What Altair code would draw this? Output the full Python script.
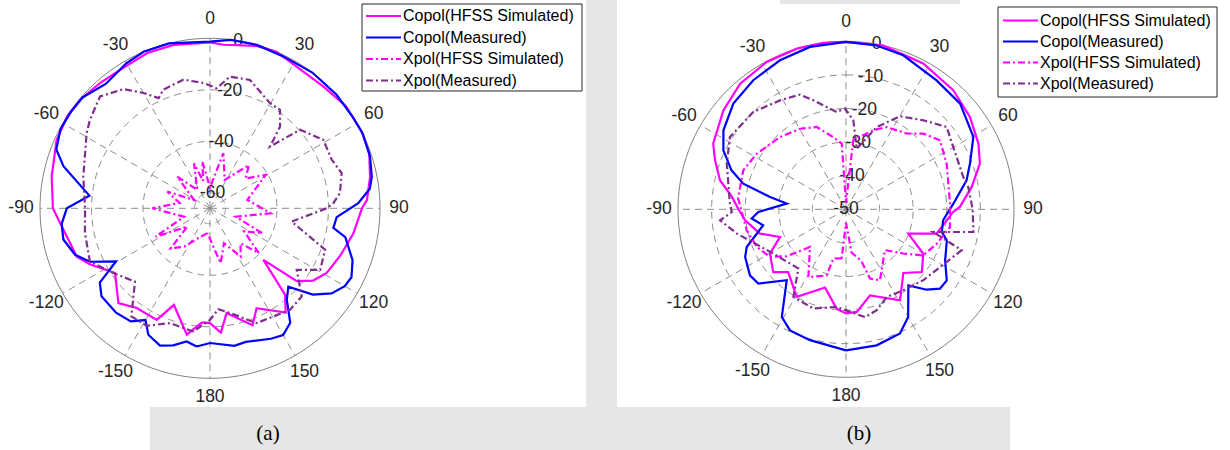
import altair as alt
import pandas as pd

W, H = 1230, 450
FONT = "Liberation Sans"
SERIF = "Liberation Serif"
TEXT_COLOR = "#262626"
GRID_COLOR = "#8c8c8c"
OUTER_COLOR = "#808080"

SERIES = ["Copol(HFSS Simulated)", "Copol(Measured)", "Xpol(HFSS Simulated)", "Xpol(Measured)"]
COLORS = ["#ff00ff", "#0000ff", "#ff00ff", "#7e2f8e"]
DASHES = [None, None, [7, 3, 2, 3], [7, 3, 2, 3]]

ANGLE_TICKS = [0, 30, 60, 90, 120, 150, 180, -150, -120, -90, -60, -30]
SPOKES = [0, 30, 60, 90, 120, 150, 180, 210, 240, 270, 300, 330]

# Patterns as [angle in degrees (clockwise from boresight), level in dB]
# ---- (a) ----
A_COPOL_SIM = [
    [-176, -21.6], [-169.6, -16.1], [-159.5, -26], [-154.5, -18], [-143.7, -18], [-136, -14.8],
    [-124.3, -21.4], [-115, -14.5], [-110, -11], [-98, -8.4], [-90, -5], [-78.6, -3.3],
    [-66, -0.8], [-57, 0], [-50, -0.3], [-41, -1.3], [-33, -1.9], [-22, -1], [-12.6, -1],
    [0, -1.6], [4.7, -2.3], [16, -0.4], [23, 0], [31, -1.5], [43, -1.4], [53, 0], [63, 0],
    [71, -0.6], [79, -2.7], [87, -5], [90, -7], [100, -9.5], [110, -12.2], [119, -14.2],
    [125, -17.1], [130, -22], [134, -37.2], [139, -21.6], [144, -16], [155, -23.2],
    [160, -17.7], [171, -24.8], [175, -17.6], [180, -21.4],
]
A_COPOL_MEAS = [
    [-174.5, -12.1], [-170, -13.5], [-165, -10.9], [-160, -9.3], [-154, -11.4], [-150, -15.9],
    [-145, -12.4], [-138, -11.5], [-129, -11.8], [-124, -14.4], [-119.5, -24.1], [-114, -15],
    [-109, -10.6], [-102, -7.8], [-96, -8.1], [-90, -10.4], [-84, -18.9], [-74, -6.8],
    [-69, -2.1], [-62, -0.3], [-55, -0.3], [-49, -0.4], [-40, -3], [-30, -1], [-23, 0],
    [-14, 0], [0, -1.3], [7, -0.1], [16, 0], [26, -0.5], [37, 0], [48, 0], [57, -0.2],
    [64, 0], [72, -0.7], [79, -2], [83, -3.5], [88, -8.4], [94, -16.7], [99, -17.5],
    [102, -12.3], [110, -7.1], [116, -4.9], [120, -5.6], [125, -8.4], [130, -13.9],
    [135, -23], [140, -19.6], [145, -11.7], [150, -9.2], [155, -10.1], [165, -12.3],
    [170, -11.8], [180, -13.7],
]
A_XPOL_SIM = [
    [-174, -56.3], [-160, -54], [-146, -48], [-135.5, -44.2], [-129, -54.7], [-117.5, -42.2],
    [-108, -55.4], [-90, -43.6], [-80, -54], [-68.7, -48.2], [-62.5, -59], [-45.9, -48.3],
    [-34.6, -57.3], [-19.6, -47.5], [-14, -55], [-9.3, -47.6], [0, -58], [13.6, -44],
    [27.4, -53.6], [42, -43.4], [50, -48], [59, -40.8], [77.4, -51.1], [94.7, -42.4],
    [108, -55.5], [115.5, -43.5], [124, -50], [132.6, -40.2], [138.8, -48], [147.6, -43.8],
    [158.2, -51.4], [169, -44.3],
]
A_XPOL_MEAS = [
    [-172.3, -17.7], [-160.8, -18.8], [-151.7, -14.2], [-144, -14.1], [-134.3, -25.3],
    [-123.8, -20.8], [-113.9, -15], [-101.2, -16.5], [-90, -17.5], [-76, -15.3],
    [-58.6, -9.9], [-53.6, -8.1], [-44.5, -5.1], [-36, -8.8], [-30, -14.3], [-25, -18.8],
    [-21.5, -16.5], [-11.7, -15], [-3, -17.3], [3.2, -19.3], [8.6, -14.3], [17.3, -13.8],
    [29.7, -19], [35.4, -19.1], [40.6, -24.2], [44.2, -32.6], [48.9, -19.6], [58.8, -14.6],
    [68.3, -15.1], [75, -13.1], [83.3, -15.2], [87.6, -18.1], [90, -20.7], [99.2, -33.9],
    [109.8, -18.5], [119.2, -17], [125.4, -24.7], [133.9, -16.6], [141.8, -15.8],
    [157.9, -17.9], [169.2, -24.6], [175.3, -26.7], [180, -22.7],
]

# ---- (b) ----
B_COPOL_SIM = [
    [-174.6, -20.3], [-165, -25.9], [-150.6, -20.1], [-137.4, -24.6], [-130.8, -21.4],
    [-120.2, -23.8], [-112.8, -28.7], [-105.8, -23.4], [-96.2, -19.8], [-90, -18],
    [-83.7, -15.8], [-77, -11.5], [-69.5, -8.4], [-63.7, -5.9], [-51.1, -3.1], [-40.1, -1.1],
    [-28.3, -0.2], [-17, 0], [-7.8, 0], [0, -0.2], [12.8, 0], [27.9, -0.9], [42, -2.3],
    [53.3, -4], [63.6, -6], [71.2, -7.9], [79.9, -12], [88.8, -16.1], [91.4, -18.1],
    [105, -22.1], [111.3, -30.1], [119.8, -23.5], [129.6, -20.7], [138, -24.5],
    [149.3, -18.5], [164.4, -23.4], [174, -19.3], [180, -19],
]
B_COPOL_MEAS = [
    [-180, -8], [-164.6, -9.6], [-155.2, -10.3], [-149.2, -12.7], [-140.1, -22.5],
    [-130.3, -15.8], [-124.5, -15.3], [-115.3, -16.8], [-110.8, -18.4], [-100.9, -24.9],
    [-95.6, -21.8], [-91.8, -23.9], [-84.5, -32.3], [-80.8, -27.1], [-76, -18.5],
    [-71.2, -14], [-64.3, -9.5], [-57.2, -6.6], [-46.8, -4], [-35.7, -2.7], [-23.9, -1.5],
    [-12.5, -0.5], [0, -0.2], [10.6, -0.4], [20.4, -1.1], [35.1, -3.1], [47.2, -3.7],
    [60.4, -6.4], [69.8, -10.7], [76.5, -13.1], [87, -18], [96.4, -20.9], [103.3, -20.7],
    [107.1, -18.6], [117.3, -16.8], [125.2, -13.3], [130.2, -13.4], [134.9, -16.1],
    [140.7, -20.7], [150, -13], [156.5, -9.7], [167.3, -8.5],
]
B_XPOL_SIM = [
    [-175, -35.3], [-165.6, -34.9], [-163.7, -29.5], [-151, -26.9], [-136.3, -34.5],
    [-128.4, -27.5], [-122.1, -23.3], [-112.9, -21.2], [-101.9, -19.8], [-84, -17.7],
    [-69.2, -17.3], [-58.1, -18.7], [-42.4, -20.9], [-29.7, -22.4], [-19.6, -24],
    [-10, -28.2], [-3.7, -30.4], [0, -48], [6, -29.3], [19.1, -25.1], [26.3, -22.7],
    [38.7, -21.1], [45.6, -17.8], [53.7, -15.3], [65.6, -17.1], [86.9, -19], [99.7, -18.6],
    [110.7, -21.1], [120.8, -23.2], [127.7, -28.5], [136.4, -33.2], [154.4, -26.6],
    [160.9, -28.2], [163.5, -34], [172.6, -37], [180, -46],
]
B_XPOL_MEAS = [
    [-174.6, -20.8], [-161.8, -18.9], [-149, -19.6], [-141.2, -27.4], [-119.3, -24.1],
    [-102.5, -16.7], [-95, -12.4], [-91.4, -16], [-87.2, -15.4], [-69, -12], [-58.1, -9.3],
    [-43.6, -10], [-31.2, -12.1], [-21.9, -13.2], [-16.7, -16.1], [-5.5, -20.9], [-0.6, -20],
    [4.7, -23.4], [10, -31.7], [20.5, -23.9], [30.1, -18], [41, -14.9], [50.7, -11.3],
    [59.9, -13.1], [74.6, -13.8], [80, -13], [90, -12.3], [100.1, -11.5], [104.6, -23.2],
    [109.5, -13.5], [132.6, -18.8], [144.7, -20.5], [155.1, -21.2], [163.1, -18.6],
    [170, -17.4],
]

PANELS = [
    dict(cx=210, cy=208.3, R=170, rmin=-66, rings=[-60, -40, -20], rlabels=[0, -20, -40, -60],
         lab_ang=9.5, caption="(a)", cap_x=268,
         box=(362, 582, 4, 91), rows=[16, 37.5, 59, 80.5], line=(366, 401), text_x=403,
         series=[A_COPOL_SIM, A_COPOL_MEAS, A_XPOL_SIM, A_XPOL_MEAS]),
    dict(cx=846, cy=209.3, R=168, rmin=-50, rings=[-40, -30, -20, -10],
         rlabels=[0, -10, -20, -30, -40, -50], lab_ang=10.5, caption="(b)", cap_x=859,
         box=(998, 1217, 7, 97), rows=[20.5, 41.5, 62.5, 83.5], line=(1003, 1038), text_x=1040,
         series=[B_COPOL_SIM, B_COPOL_MEAS, B_XPOL_SIM, B_XPOL_MEAS]),
]

XS = alt.Scale(domain=[0, W], nice=False, zero=False)
YS = alt.Scale(domain=[0, H], nice=False, zero=False, reverse=True)


def X(f):
    return alt.X(f, type="quantitative", scale=XS, axis=None)


def Y(f):
    return alt.Y(f, type="quantitative", scale=YS, axis=None)


def db_radius(p):
    return f"max(0, (datum.db - ({p['rmin']})) / {-p['rmin']} * {p['R']})"


def to_xy(chart, p, r_expr):
    return chart.transform_calculate(
        px=f"{p['cx']} + ({r_expr}) * sin(datum.ang * PI / 180)",
        py=f"{p['cy']} - ({r_expr}) * cos(datum.ang * PI / 180)",
    )


def dash_kw(d):
    return {"strokeDash": d} if d else {}


layers = []

# faint page background blocks
bg = pd.DataFrame({"k": [0]})
for x0, x1, y0, y1 in [(586, 617, 0, 450), (150, 1010, 407, 450), (780, 960, 0, 4)]:
    layers.append(alt.Chart(bg).mark_rect(color="#e6e6e6").encode(
        x=alt.value(x0), x2=alt.value(x1), y=alt.value(y0), y2=alt.value(y1)))

for p in PANELS:
    # rings
    for lvl in p["rings"] + [0]:
        ring = alt.Chart(alt.sequence(0, 361, 2, as_="ang")).transform_calculate(db=str(lvl))
        ring = to_xy(ring, p, db_radius(p))
        if lvl < 0:
            mk = ring.mark_line(stroke=GRID_COLOR, strokeWidth=1, strokeDash=[7, 5])
        else:
            mk = ring.mark_line(stroke=OUTER_COLOR, strokeWidth=1)
        layers.append(mk.encode(x=X("px"), y=Y("py"), order="ang:Q"))

    # spokes
    sp = alt.Chart(pd.DataFrame({"ang": SPOKES})).transform_calculate(
        x0=str(p["cx"]), y0=str(p["cy"]))
    sp = to_xy(sp, p, str(p["R"]))
    layers.append(sp.mark_rule(stroke=GRID_COLOR, strokeWidth=1, strokeDash=[7, 5]).encode(
        x=X("x0"), y=Y("y0"), x2=alt.X2("px"), y2=alt.Y2("py")))

    # angle labels
    al = alt.Chart(pd.DataFrame({"ang": ANGLE_TICKS, "label": [str(a) for a in ANGLE_TICKS]}))
    al = to_xy(al, p, str(p["R"] + 19))
    layers.append(al.mark_text(font=FONT, fontSize=17.5, color=TEXT_COLOR, align="center",
                               baseline="middle").encode(x=X("px"), y=Y("py"), text="label:N"))

    # radial labels
    rl = alt.Chart(pd.DataFrame({"db": p["rlabels"], "label": [str(v) for v in p["rlabels"]]}))
    rl = rl.transform_calculate(ang=str(p["lab_ang"]))
    rl = to_xy(rl, p, db_radius(p))
    layers.append(rl.mark_text(font=FONT, fontSize=17.5, color=TEXT_COLOR, align="center",
                               baseline="middle").encode(x=X("px"), y=Y("py"), text="label:N"))

    # pattern curves
    for pts, color, dash in zip(p["series"], COLORS, DASHES):
        closed = pts + [pts[0]]
        df = pd.DataFrame({"ang": [a for a, _ in closed], "db": [d for _, d in closed],
                           "i": list(range(len(closed)))})
        ln = to_xy(alt.Chart(df), p, db_radius(p))
        layers.append(ln.mark_line(color=color, strokeWidth=2.2, **dash_kw(dash)).encode(
            x=X("px"), y=Y("py"), order="i:Q"))

    # legend
    bx0, bx1, by0, by1 = p["box"]
    layers.append(alt.Chart(bg).mark_rect(fill="white", stroke=TEXT_COLOR, strokeWidth=1).encode(
        x=alt.value(bx0), x2=alt.value(bx1), y=alt.value(by0), y2=alt.value(by1)))
    lx0, lx1 = p["line"]
    for name, color, dash, yrow in zip(SERIES, COLORS, DASHES, p["rows"]):
        nd = pd.DataFrame({"name": [name]})
        layers.append(alt.Chart(nd).mark_rule(color=color, strokeWidth=2.2, **dash_kw(dash)).encode(
            x=alt.value(lx0), x2=alt.value(lx1), y=alt.value(yrow)))
        layers.append(alt.Chart(nd).mark_text(font=FONT, fontSize=16, color="black", align="left",
                                              baseline="middle").encode(
            x=alt.value(p["text_x"]), y=alt.value(yrow), text="name:N"))

    # caption
    cap = pd.DataFrame({"label": [p["caption"]]})
    layers.append(alt.Chart(cap).mark_text(font=SERIF, fontSize=21, color="black", align="center",
                                           baseline="middle").encode(
        x=alt.value(p["cap_x"]), y=alt.value(434), text="label:N"))

chart = alt.layer(*layers).properties(
    width=W, height=H, padding=0, autosize=alt.AutoSizeParams(type="none"),
    background="white",
).configure_view(stroke=None)

chart.save("out.html", embed_options={"renderer": "svg", "actions": False})
